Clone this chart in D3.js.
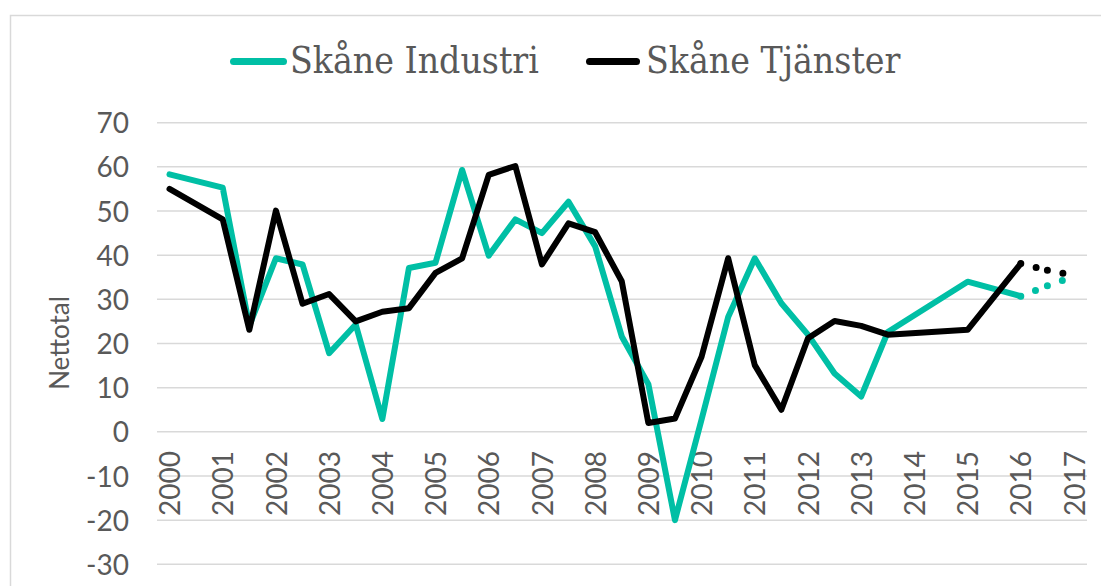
<!DOCTYPE html>
<html>
<head>
<meta charset="utf-8">
<script src="https://cdn.jsdelivr.net/npm/d3@7"></script>
<style>
  html, body { margin: 0; padding: 0; background: #fff; }
  svg { display: block; }
</style>
</head>
<body>
<svg id="chart" width="1101" height="586"></svg>
<script>
// ---- data ----
const periods = [2000, 2001, 2001.5, 2002, 2002.5, 2003, 2003.5, 2004, 2004.5, 2005, 2005.5,
  2006, 2006.5, 2007, 2007.5, 2008, 2008.5, 2009, 2009.5, 2010, 2010.5, 2011, 2011.5,
  2012, 2012.5, 2013, 2013.5, 2015, 2016];
const industri = [58.3, 55.3, 24, 39.3, 37.9, 17.8, 24.3, 2.9, 37.1, 38.3, 59.3,
  39.9, 48.1, 45.0, 52.1, 42, 21.6, 10.8, -20.0, 2.8, 26.0, 39.3, 29.1,
  22.0, 13.2, 8.0, 22.6, 34.0, 30.7];
const tjanster = [55.0, 48.1, 23.1, 50.1, 29.0, 31.2, 25.0, 27.2, 28.0, 36.0, 39.3,
  58.2, 60.2, 37.9, 47.2, 45.2, 34.1, 2.0, 3.0, 17.0, 39.3, 15.1, 5.0,
  21.2, 25.1, 24.0, 22.0, 23.1, 38.1];
// forecast (dotted)
const forecastPeriods = [2016, 2016.5, 2017];
const industriForecast = [30.7, 33.1, 35.2];
const tjansterForecast = [38.1, 36.6, 35.4];

const yTicks = [70, 60, 50, 40, 30, 20, 10, 0, -10, -20, -30];
const yTickLabels = ["70","60","50","40","30","20","10","0","-10","-20","-30"];
const xTickLabels = ["2000","2001","2002","2003","2004","2005","2006","2007","2008",
  "2009","2010","2011","2012","2013","2014","2015","2016","2017"];
const seriesNames = ["Skåne Industri", "Skåne Tjänster"];
const seriesColors = ["#00BFA5", "#000000"];
const yTitle = "Nettotal";

// ---- chart ----
const svg = d3.select("#chart");
const textColor = "#595959";
const gridColor = "#d9d9d9";

// outer border
svg.append("rect")
  .attr("x", 10.5).attr("y", 15.5)
  .attr("width", 1200).attr("height", 800)
  .attr("fill", "none").attr("stroke", gridColor).attr("stroke-width", 1.5);

const x = d3.scaleLinear().domain([2000, 2017]).range([169.5, 1074]);
const y = d3.scaleLinear().domain([-30, 70]).range([564.3, 122.7]);
const gridX0 = 157, gridX1 = 1087;

// gridlines
svg.append("g").selectAll("line")
  .data(yTicks).join("line")
  .attr("x1", gridX0).attr("x2", gridX1)
  .attr("y1", d => y(d)).attr("y2", d => y(d))
  .attr("stroke", gridColor).attr("stroke-width", 1.5);

// y axis (labels only)
const yAxis = d3.axisLeft(y).tickValues(yTicks)
  .tickFormat((d, i) => yTickLabels[i])
  .tickSize(0).tickPadding(0);
const gy = svg.append("g").attr("transform", "translate(129,0)").call(yAxis);
gy.select(".domain").remove();
gy.selectAll("text")
  .attr("fill", textColor)
  .style("font-family", "Lato, 'Open Sans', sans-serif")
  .style("font-size", "28px")
  .attr("dy", "0.36em");

// y title
svg.append("text")
  .attr("transform", "translate(69,343) rotate(-90)")
  .attr("text-anchor", "middle")
  .attr("fill", textColor)
  .style("font-family", "Lato, 'Open Sans', sans-serif")
  .style("font-size", "26px")
  .text(yTitle);

// x labels (rotated) at the zero line
const xAxis = d3.axisBottom(x)
  .tickValues(xTickLabels.map(Number))
  .tickFormat((d, i) => xTickLabels[i])
  .tickSize(0).tickPadding(0);
const gx = svg.append("g").attr("transform", "translate(0,451)").call(xAxis);
gx.select(".domain").remove();
gx.selectAll("text")
  .attr("transform", "rotate(-90)")
  .attr("text-anchor", "end")
  .attr("x", 0).attr("y", 0)
  .attr("dy", "0.36em")
  .attr("fill", textColor)
  .style("font-family", "Lato, 'Open Sans', sans-serif")
  .style("font-size", "28px");

// lines
const line = d3.line().x(d => x(d[0])).y(d => y(d[1]));
const solid = [industri, tjanster];
solid.forEach((vals, si) => {
  svg.append("path")
    .datum(periods.map((p, i) => [p, vals[i]]))
    .attr("d", line)
    .attr("fill", "none")
    .attr("stroke", seriesColors[si])
    .attr("stroke-width", 6)
    .attr("stroke-linejoin", "round")
    .attr("stroke-linecap", "round");
});

// dotted forecast, each segment starts its own dot pattern
const fc = [industriForecast, tjansterForecast];
fc.forEach((vals, si) => {
  const pts = forecastPeriods.map((p, i) => [p, vals[i]]);
  const segs = d3.pairs(pts);
  svg.append("g").selectAll("path")
    .data(segs).join("path")
    .attr("d", line)
    .attr("fill", "none")
    .attr("stroke", seriesColors[si])
    .attr("stroke-width", 7)
    .attr("stroke-linecap", "round")
    .attr("stroke-dasharray", "0 15.8");
});

// legend
const legendItems = [
  { name: seriesNames[0], color: seriesColors[0], x0: 230, x1: 287, tx: 290 },
  { name: seriesNames[1], color: seriesColors[1], x0: 586, x1: 640, tx: 646 }
];
const lg = svg.append("g");
legendItems.forEach(it => {
  lg.append("line")
    .attr("x1", it.x0 + 3.5).attr("x2", it.x1 - 3.5)
    .attr("y1", 61.5).attr("y2", 61.5)
    .attr("stroke", it.color).attr("stroke-width", 7)
    .attr("stroke-linecap", "round");
  lg.append("text")
    .attr("x", it.tx).attr("y", 73)
    .attr("fill", textColor)
    .style("font-family", "'DejaVu Serif Condensed', 'DejaVu Serif', serif")
    .style("font-stretch", "condensed")
    .style("font-size", "37px")
    .text(it.name);
});
</script>
</body>
</html>
